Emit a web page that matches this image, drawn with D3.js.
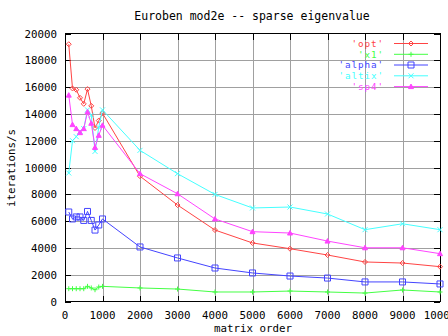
<!DOCTYPE html>
<html><head><meta charset="utf-8">
<script src="https://cdn.jsdelivr.net/npm/d3@7"></script>
<style>
html,body{margin:0;padding:0;background:#fff;}
text{font-family:"DejaVu Sans Mono",monospace;font-size:10.8px;}
</style></head>
<body>
<svg id="c" width="448" height="336"></svg>
<script>
const title = "Euroben mod2e -- sparse eigenvalue";
const xLabel = "matrix order";
const yLabel = "iterations/s";
const xs = [100,200,300,400,500,600,700,800,900,1000,2000,3000,4000,5000,6000,7000,8000,9000,10000];
const opt   = [19200,15900,15800,15200,14750,15850,14600,12950,13500,14050,9350,7200,5330,4370,3940,3470,2950,2870,2600];
const x1    = [955,955,955,955,955,1130,1010,880,1080,1130,1010,930,710,710,780,710,630,860,710];
const alpha = [6680,6160,6310,6310,6050,6720,6050,5330,5710,6160,4070,3250,2500,2130,1900,1750,1460,1460,1310];
const altix = [9590,12000,12300,12700,12900,14300,13900,11200,13000,14300,11280,9540,7990,6980,7050,6530,5360,5800,5360];
const sp4   = [15400,13200,12900,12600,12900,14150,13300,11500,12400,13150,9540,8040,6160,5210,5110,4510,4010,4010,3570];
const seriesNames = ["'opt'","'x1'","'alpha'","'altix'","'sp4'"];
const seriesColors = ["#ff4444","#44ff44","#4444ff","#44ffff","#ff44ff"];
const seriesMarkers = ["diamond","plus","box","cross","triangle"];
const xTicks = [0,1000,2000,3000,4000,5000,6000,7000,8000,9000,10000];
const yTicks = [0,2000,4000,6000,8000,10000,12000,14000,16000,18000,20000];

const seriesValues = [opt,x1,alpha,altix,sp4];
const L=65, R=440, T=33.5, B=301.5;
const x = d3.scaleLinear().domain([0,10000]).range([L,R]);
const y = d3.scaleLinear().domain([0,20000]).range([B,T]);
const svg = d3.select("#c");

const g = svg.append("g").attr("shape-rendering","crispEdges");
xTicks.slice(1,-1).forEach(t=>{
  g.append("line").attr("x1",Math.round(x(t))+0.5).attr("x2",Math.round(x(t))+0.5).attr("y1",T).attr("y2",B).attr("stroke","#a0a0a0");
});
yTicks.slice(1,-1).forEach(t=>{
  g.append("line").attr("y1",Math.round(y(t))+0.5).attr("y2",Math.round(y(t))+0.5).attr("x1",L).attr("x2",R).attr("stroke","#a0a0a0");
});
xTicks.forEach(t=>{
  const px=Math.round(x(t))+0.5;
  g.append("line").attr("x1",px).attr("x2",px).attr("y1",B).attr("y2",B-6).attr("stroke","#000");
  g.append("line").attr("x1",px).attr("x2",px).attr("y1",T).attr("y2",T+6).attr("stroke","#000");
  svg.append("text").attr("x",x(t)).attr("y",B+17).attr("text-anchor","middle").text(t);
});
yTicks.forEach(t=>{
  const py=Math.round(y(t))+0.5;
  g.append("line").attr("x1",L).attr("x2",L+6).attr("y1",py).attr("y2",py).attr("stroke","#000");
  g.append("line").attr("x1",R).attr("x2",R-6).attr("y1",py).attr("y2",py).attr("stroke","#000");
  svg.append("text").attr("x",57).attr("y",y(t)+4).attr("text-anchor","end").text(t);
});
g.append("rect").attr("x",L+0.5).attr("y",T).attr("width",R-L).attr("height",B-T).attr("fill","none").attr("stroke","#000");

svg.append("text").attr("x",252).attr("y",20).attr("text-anchor","middle").style("font-size","11.5px").text(title);
svg.append("text").attr("x",253).attr("y",332).attr("text-anchor","middle").text(xLabel);
svg.append("text").attr("transform","translate(15,168) rotate(-90)").attr("text-anchor","middle").text(yLabel);

function marker(sel, type, cx, cy, color){
  const s = type==="box" ? 3 : 2.5;
  let d;
  if(type==="diamond") d=`M${cx},${cy-s}L${cx+s},${cy}L${cx},${cy+s}L${cx-s},${cy}Z`;
  else if(type==="plus") d=`M${cx-s},${cy}H${cx+s}M${cx},${cy-s}V${cy+s}`;
  else if(type==="box") d=`M${cx-s},${cy-s}H${cx+s}V${cy+s}H${cx-s}Z`;
  else if(type==="cross") d=`M${cx-s},${cy-s}L${cx+s},${cy+s}M${cx-s},${cy+s}L${cx+s},${cy-s}`;
  else d=`M${cx},${cy-s}L${cx+s},${cy+s*0.8}L${cx-s},${cy+s*0.8}Z`;
  sel.append("path").attr("d",d).attr("fill",type==="triangle"?color:"none").attr("stroke",color).attr("stroke-width",1);
}

const line = d3.line().x((d,i)=>x(xs[i])).y(d=>y(d));
seriesValues.forEach((vals,k)=>{
  const col=seriesColors[k];
  svg.append("path").attr("d",line(vals)).attr("fill","none").attr("stroke",col).attr("stroke-width",1);
  const mg=svg.append("g");
  vals.forEach((v,i)=>marker(mg,seriesMarkers[k],x(xs[i]),y(v),col));
});

const legY=[43.5,54.3,65,75.8,86.6];
seriesNames.forEach((n,k)=>{
  const col=seriesColors[k];
  svg.append("text").attr("x",384).attr("y",legY[k]+3.3).attr("text-anchor","end").attr("fill",col).style("font-size","9.3px").style("letter-spacing","0.9px").text(n);
  svg.append("line").attr("x1",394).attr("x2",428).attr("y1",legY[k]).attr("y2",legY[k]).attr("stroke",col);
  marker(svg,seriesMarkers[k],411,legY[k],col);
});
</script>
</body></html>
